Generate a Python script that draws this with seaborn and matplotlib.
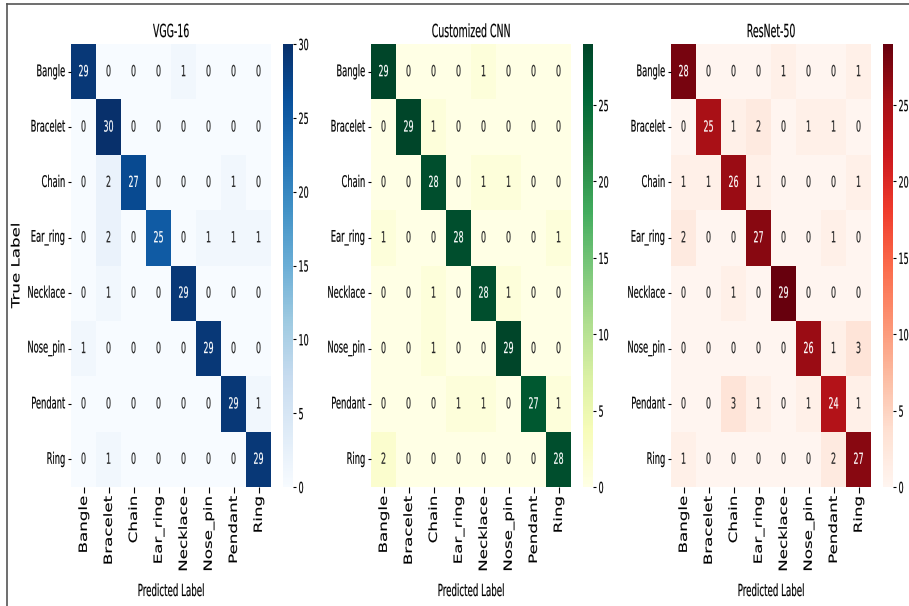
import matplotlib
matplotlib.use("Agg")
import matplotlib.pyplot as plt
from matplotlib.lines import Line2D
from matplotlib.patheffects import AbstractPathEffect
from matplotlib.text import Text
from matplotlib.transforms import Affine2D, Bbox
import numpy as np
import pandas as pd
import seaborn as sns

# Jewellery classes (true rows / predicted columns)
classes = ["Bangle", "Bracelet", "Chain", "Ear_ring", "Necklace", "Nose_pin", "Pendant", "Ring"]

vgg16_cm = [
    [29, 0, 0, 0, 1, 0, 0, 0],
    [0, 30, 0, 0, 0, 0, 0, 0],
    [0, 2, 27, 0, 0, 0, 1, 0],
    [0, 2, 0, 25, 0, 1, 1, 1],
    [0, 1, 0, 0, 29, 0, 0, 0],
    [1, 0, 0, 0, 0, 29, 0, 0],
    [0, 0, 0, 0, 0, 0, 29, 1],
    [0, 1, 0, 0, 0, 0, 0, 29],
]

custom_cnn_cm = [
    [29, 0, 0, 0, 1, 0, 0, 0],
    [0, 29, 1, 0, 0, 0, 0, 0],
    [0, 0, 28, 0, 1, 1, 0, 0],
    [1, 0, 0, 28, 0, 0, 0, 1],
    [0, 0, 1, 0, 28, 1, 0, 0],
    [0, 0, 1, 0, 0, 29, 0, 0],
    [0, 0, 0, 1, 1, 0, 27, 1],
    [2, 0, 0, 0, 0, 0, 0, 28],
]

resnet50_cm = [
    [28, 0, 0, 0, 1, 0, 0, 1],
    [0, 25, 1, 2, 0, 1, 1, 0],
    [1, 1, 26, 1, 0, 0, 0, 1],
    [2, 0, 0, 27, 0, 0, 1, 0],
    [0, 0, 1, 0, 29, 0, 0, 0],
    [0, 0, 0, 0, 0, 26, 1, 3],
    [0, 0, 3, 1, 0, 1, 24, 1],
    [1, 0, 0, 0, 0, 0, 2, 27],
]

model_titles = ["VGG-16", "Customized CNN", "ResNet-50"]
model_cmaps = ["Blues", "YlGn", "Reds"]
model_matrices = [vgg16_cm, custom_cnn_cm, resnet50_cm]


def _anchor_x(text):
    return text.get_transform().transform(text.get_unitless_position())


class NarrowText(AbstractPathEffect):
    """Compress glyph outlines horizontally about the text's anchor point."""

    def __init__(self, text, factor, stroke=0.1):
        super().__init__()
        self._text = text
        self._factor = factor
        self._stroke = stroke

    def draw_path(self, renderer, gc, tpath, affine, rgbFace=None):
        x0, y0 = _anchor_x(self._text)
        squeeze = Affine2D().translate(-x0, -y0).scale(self._factor, 1.0).translate(x0, y0)
        gc0 = renderer.new_gc()
        gc0.copy_properties(gc)
        if rgbFace is not None:
            gc0.set_foreground(rgbFace)
        gc0.set_linewidth(self._stroke)
        renderer.draw_path(gc0, tpath, affine + squeeze, rgbFace)
        gc0.restore()


def narrow(text, factor):
    """Draw `text` narrowed and report the narrowed extent."""
    text.set_path_effects([NarrowText(text, factor)])
    full_extent = text.get_window_extent

    def narrowed_extent(renderer=None, dpi=None):
        bb = full_extent(renderer, dpi)
        ax0 = _anchor_x(text)[0]
        return Bbox([[ax0 + (bb.x0 - ax0) * factor, bb.y0],
                     [ax0 + (bb.x1 - ax0) * factor, bb.y1]])

    text.get_window_extent = narrowed_extent


W, H = 909, 606
fig = plt.figure(figsize=(W / 100, H / 100), dpi=100)
fig.patch.set_facecolor("white")

for i, (title, cmap, cm) in enumerate(zip(model_titles, model_cmaps, model_matrices)):
    left = 71 + 300 * i
    ax = fig.add_axes([left / W, 119 / H, 200 / W, 443 / H])
    cax = fig.add_axes([(left + 212) / W, 119 / H, 10 / W, 443 / H])
    df = pd.DataFrame(np.array(cm), index=classes, columns=classes)
    sns.heatmap(df, annot=True, fmt="d", cmap=cmap, ax=ax, cbar_ax=cax,
                annot_kws={"size": 11})
    ax.set_title(title, fontsize=13, pad=5)
    ax.set_xlabel("Predicted Label", fontsize=12, va="center")
    ax.xaxis.set_label_coords(0.5, (487 - 591) / 443)
    if i == 0:
        ax.set_ylabel("True Label", fontsize=12, va="center")
        ax.yaxis.set_label_coords((16 - left) / 200, 0.5)
    else:
        ax.set_ylabel("")
    ax.tick_params(axis="x", labelsize=12, labelrotation=90, length=4, pad=2.5)
    ax.tick_params(axis="y", labelsize=11.5, labelrotation=0, length=2, pad=2)
    cax.tick_params(labelsize=11, length=2, pad=2)

# Frame lines along the left and top edges of the canvas
fig.add_artist(Line2D([7.5 / W, 7.5 / W], [0, 1 - 4 / H], transform=fig.transFigure,
                      color="#555555", lw=1.2))
fig.add_artist(Line2D([7.5 / W, 1], [1 - 4 / H, 1 - 4 / H], transform=fig.transFigure,
                      color="#555555", lw=1.2))

fig.canvas.draw()
for t in fig.findobj(Text):
    if t.get_text():
        narrow(t, 0.68 if abs(t.get_rotation() - 90) < 1 else 0.52)

fig.savefig("out.png", dpi=100)
